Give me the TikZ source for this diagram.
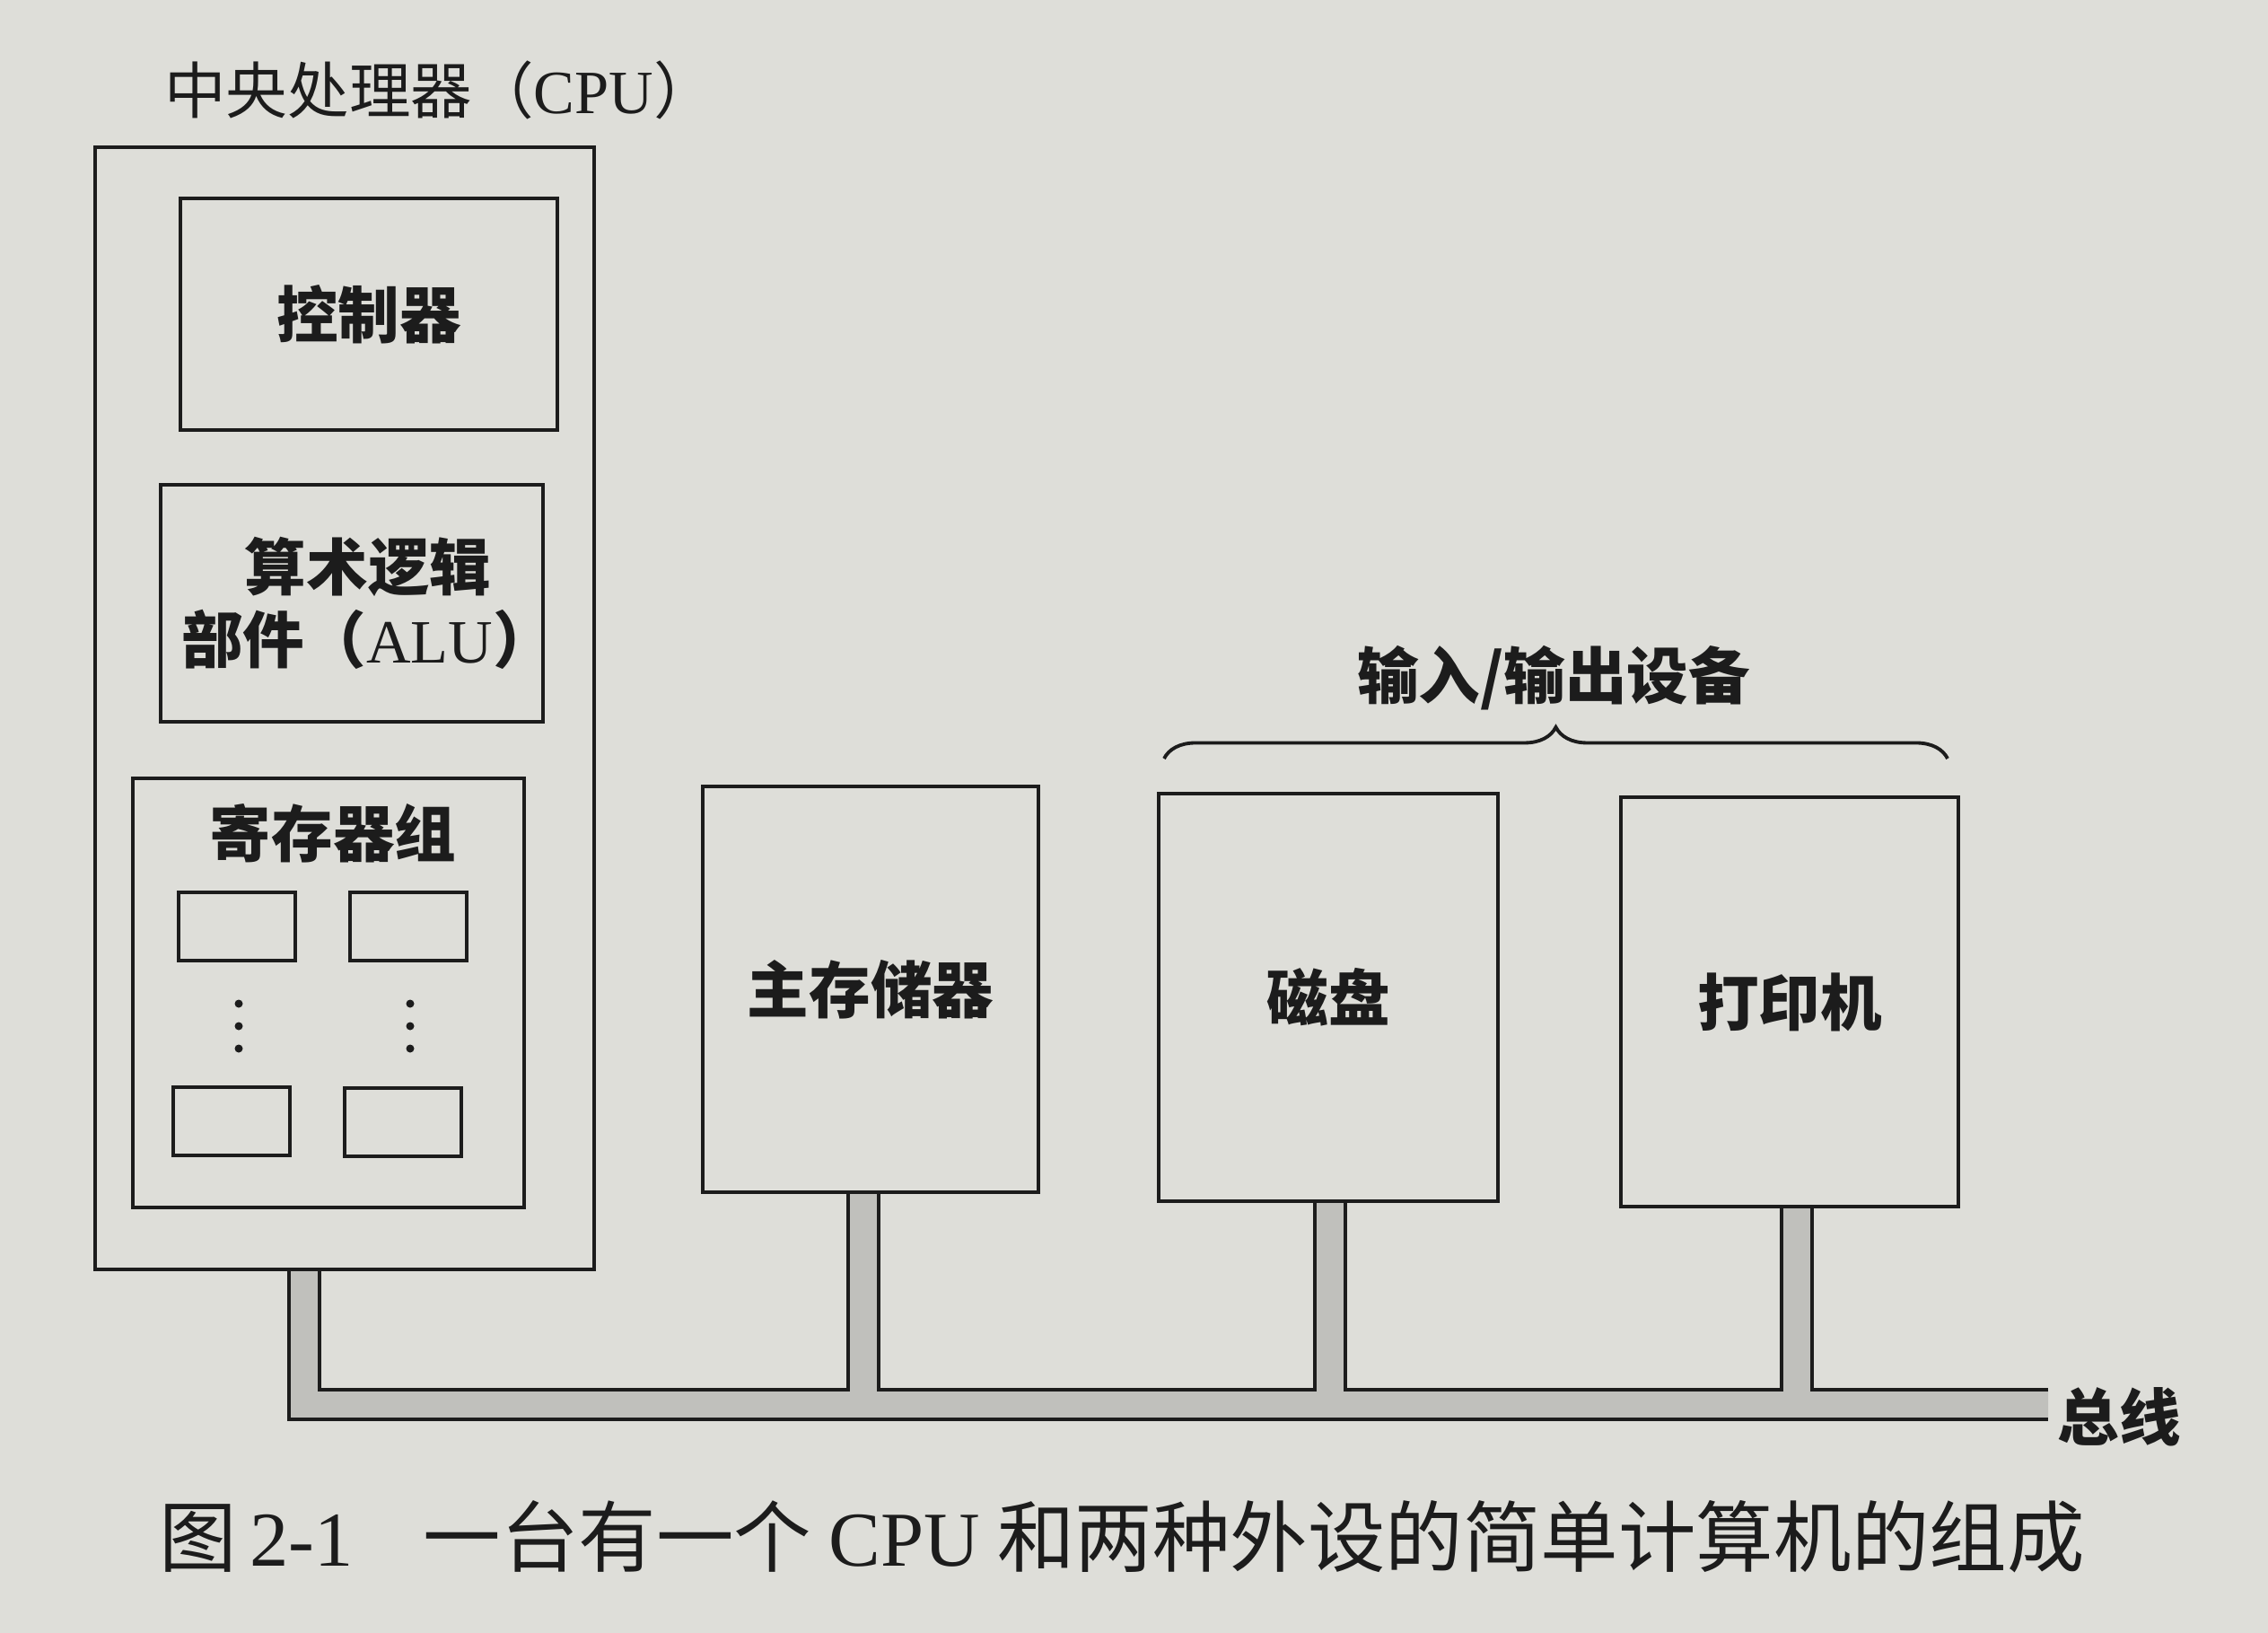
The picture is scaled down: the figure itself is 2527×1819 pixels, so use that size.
\documentclass[tikz,border=0pt]{standalone}
\usepackage{fontspec}
\setmainfont{Liberation Serif}
\newfontfamily\cjk{Noto Sans CJK SC}
\usepackage{tikz}
\usetikzlibrary{positioning, calc, decorations.pathreplacing}
\definecolor{paper}{RGB}{222,222,217}
\definecolor{busgray}{RGB}{192,192,188}
\definecolor{ink}{RGB}{28,28,28}

\begin{document}
\begin{tikzpicture}[
    x=0.01cm, y=-0.01cm,
    blk/.style={draw=ink, line width=1.1pt, inner sep=0pt, outer sep=0pt},
    lbl/.style={text=ink, font=\cjk\bfseries\fontsize{19.5}{23}\selectfont,
                align=center},
    regbox/.style={blk, minimum width=1.3cm, minimum height=0.76cm},
    bus/.style={fill=busgray, draw=ink, line width=1.1pt},
  ]
    \fill[paper] (0,0) rectangle (2527,1819);
    \useasboundingbox (0,0) rectangle (2527,1819);

    % CPU and its parts
    \node[text=ink, font=\cjk\fontsize{19.5}{23}\selectfont] (cput) at (490,100)
      {中央处理器（{\rmfamily CPU}）};
    \node[blk, minimum width=5.55cm, minimum height=12.5cm] (cpu) at (384,789) {};
    \node[blk, lbl, minimum width=4.2cm, minimum height=2.57cm] (ctrl) at (411,350) {控制器};
    \node[blk, minimum width=4.25cm, minimum height=2.64cm] (alu) at (392,672) {};
    \node[lbl] (alut) at ($(alu.center)+(18,0)$) {算术逻辑\\部件（{\rmfamily\mdseries ALU}）};
    \node[blk, minimum width=4.36cm, minimum height=4.77cm] (reg) at (366,1106) {};
    \node[lbl] (regt) at (371,928) {寄存器组};
    \node[regbox] (r1) at (264,1032) {};
    \node[regbox] (r2) at (455,1032) {};
    \node[regbox] (r3) at (258,1249) {};
    \node[regbox] (r4) at (449,1250) {};
    \foreach \x in {266,457}
      \foreach \y in {1118,1143,1168}
        \fill[ink] (\x,\y) circle (0.045cm);

    % memory and devices
    \node[blk, lbl, minimum width=3.74cm, minimum height=4.51cm] (mem) at (970,1102) {主存储器};
    \node[blk, lbl, minimum width=3.78cm, minimum height=4.54cm] (disk) at (1480,1111) {磁盘};
    \node[blk, lbl, minimum width=3.76cm, minimum height=4.55cm] (prn) at (1994,1116) {打印机};

    \coordinate (iol) at (1297,845);
    \coordinate (ior) at (2170,845);
    \draw[ink, line width=1.1pt, decorate, decoration={brace, amplitude=0.35cm}] (iol) -- (ior);
    \node[lbl] (iot) at (1731,755) {输入/输出设备};

    % bus
    \coordinate (ca) at ($(cpu.south west)+(216,0)$);
    \coordinate (cb) at ($(cpu.south west)+(250,0)$);
    \coordinate (ma) at ($(mem.south)+(-25,0)$);
    \coordinate (mb) at ($(mem.south)+(9,0)$);
    \coordinate (da) at ($(disk.south)+(-15,0)$);
    \coordinate (db) at ($(disk.south)+(19,0)$);
    \coordinate (pa) at ($(prn.south)+(-9,0)$);
    \coordinate (pb) at ($(prn.south)+(25,0)$);
    \coordinate (bt) at (2282,1548);
    \coordinate (bb) at (2282,1581);
    \draw[bus] (bt) -- (pb |- bt) -- (pb) -- (pa) -- (pa |- bt)
      -- (db |- bt) -- (db) -- (da) -- (da |- bt)
      -- (mb |- bt) -- (mb) -- (ma) -- (ma |- bt)
      -- (cb |- bt) -- (cb) -- (ca) -- (ca |- bb) -- (bb);
    \node[lbl, anchor=west] (busl) at (2280,1578) {总线};

    % caption
    \node[anchor=west, inner sep=0pt, text=ink, font=\cjk\fontsize{24.6}{28}\selectfont] (cap) at (177,1712)
      {图\,{\rmfamily 2-1}\hspace{0.9em}一台有一个 {\rmfamily CPU} 和两种外设的简单计算机的组成};
\end{tikzpicture}
\end{document}
